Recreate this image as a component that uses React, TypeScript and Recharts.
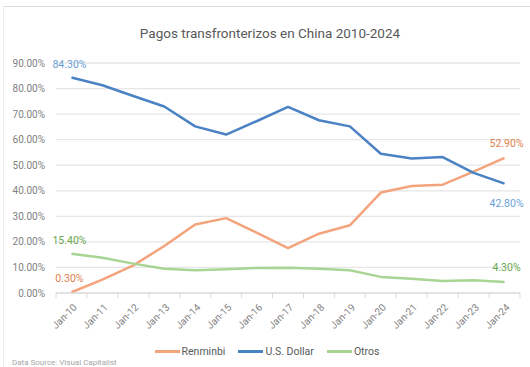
import React from "react";
import { LineChart, Line, XAxis, YAxis, CartesianGrid, Legend, LabelList } from "recharts";

const categories = ["Jan-10", "Jan-11", "Jan-12", "Jan-13", "Jan-14", "Jan-15", "Jan-16", "Jan-17", "Jan-18", "Jan-19", "Jan-20", "Jan-21", "Jan-22", "Jan-23", "Jan-24"];
const renminbi = [0.3, 5.2, 10.8, 18.4, 26.8, 29.3, 23.5, 17.6, 23.2, 26.5, 39.3, 41.9, 42.4, 47.5, 52.9];
const usDollar = [84.3, 81.3, 77.1, 73.0, 65.2, 62.0, 67.3, 72.8, 67.6, 65.2, 54.5, 52.6, 53.2, 47.0, 42.8];
const otros = [15.4, 13.8, 11.5, 9.5, 8.9, 9.3, 9.8, 9.9, 9.5, 8.9, 6.3, 5.6, 4.7, 5.0, 4.3];
const yTicks = [0, 10, 20, 30, 40, 50, 60, 70, 80, 90];

const data = categories.map((name, i) => ({
    name,
    renminbi: renminbi[i],
    usd: usDollar[i],
    otros: otros[i],
}));

const FONT = "Roboto, 'Noto Sans', sans-serif";
const BAND = 30.9;

const series = [
    { key: "renminbi", name: "Renminbi", color: "#f3a47c", label: "#e0804f", firstDy: -10, lastDy: -11 },
    { key: "usd", name: "U.S. Dollar", color: "#4a82c4", label: "#6a9fd4", firstDy: -10, lastDy: 23 },
    { key: "otros", name: "Otros", color: "#a9d594", label: "#6aa84f", firstDy: -10, lastDy: -11 },
];

function makeLabel(color: string, firstDy: number, lastDy: number) {
    return (props: any) => {
        const { x, y, value, index } = props;
        const last = categories.length - 1;
        if (index !== 0 && index !== last) return null;
        const dy = index === 0 ? firstDy : lastDy;
        const dx = index === 0 ? -2 : 2;
        return (
            <text x={x + dx} y={y + dy} fill={color} fontSize={10.5} fontFamily={FONT} textAnchor="middle">
                {Number(value).toFixed(2)}%
            </text>
        );
    };
}

function XTick(props: any) {
    const { x, y, payload, index } = props;
    const last = categories.length - 1;
    return (
        <g>
            <line x1={x - BAND / 2} y1={y - 8} x2={x - BAND / 2} y2={y - 3} stroke="#d9d9d9" />
            {index === last && <line x1={x + BAND / 2} y1={y - 8} x2={x + BAND / 2} y2={y - 3} stroke="#d9d9d9" />}
            <text
                x={x + 6}
                y={y + 7}
                textAnchor="end"
                fill="#7f7f7f"
                fontSize={10}
                fontFamily={FONT}
                transform={`rotate(-45, ${x + 6}, ${y + 7})`}
            >
                {payload.value}
            </text>
        </g>
    );
}

function LegendContent() {
    return (
        <div style={{ display: "flex", justifyContent: "center", alignItems: "center", height: 18, gap: 13, fontFamily: FONT, fontSize: 10.5, color: "#595959", paddingLeft: 8 }}>
            {series.map((s) => (
                <div key={s.key} style={{ display: "flex", alignItems: "center" }}>
                    <span style={{ display: "inline-block", width: 25, height: 3, background: s.color, marginRight: 2 }} />
                    <span>{s.name}</span>
                </div>
            ))}
        </div>
    );
}

export default function App() {
    return (
        <div style={{ position: "absolute", left: 0, top: 0, width: 530, height: 367, background: "#fff" }}>
            <div style={{ position: "absolute", left: 3, top: 6, right: 0, bottom: 0, borderTop: "1px solid #dcdcdc", borderLeft: "1px solid #efefef" }} />
            <div style={{ position: "absolute", left: 0, top: 25, width: 540, textAlign: "center", fontFamily: FONT, fontSize: 13.5, color: "#595959" }}>
                Pagos transfronterizos en China 2010-2024
            </div>
            <LineChart width={530} height={367} data={data} margin={{ top: 63, right: 10, left: 6, bottom: 7 }}>
                <CartesianGrid horizontal vertical={false} stroke="#e6e6e6" strokeWidth={1.3} />
                <XAxis
                    dataKey="name"
                    height={49}
                    interval={0}
                    padding={{ left: BAND / 2, right: BAND / 2 }}
                    tickLine={false}
                    axisLine={{ stroke: "#d9d9d9" }}
                    tick={<XTick />}
                />
                <YAxis
                    width={50}
                    domain={[0, 90]}
                    ticks={yTicks}
                    tickLine={false}
                    axisLine={false}
                    tickMargin={5}
                    tickFormatter={(v) => `${Number(v).toFixed(2)}%`}
                    tick={{ fill: "#7f7f7f", fontSize: 10, fontFamily: FONT }}
                />
                <Legend verticalAlign="bottom" content={<LegendContent />} />
                {series.map((s) => (
                    <Line
                        key={s.key}
                        type="linear"
                        dataKey={s.key}
                        name={s.name}
                        stroke={s.color}
                        strokeWidth={2.5}
                        strokeLinejoin="round"
                        dot={false}
                        activeDot={false}
                        isAnimationActive={false}
                    >
                        <LabelList dataKey={s.key} content={makeLabel(s.label, s.firstDy, s.lastDy)} />
                    </Line>
                ))}
            </LineChart>
            <div style={{ position: "absolute", left: 12, top: 358, fontFamily: FONT, fontSize: 8, color: "#a6a6a6" }}>
                Data Source: Visual Capitalist
            </div>
        </div>
    );
}
